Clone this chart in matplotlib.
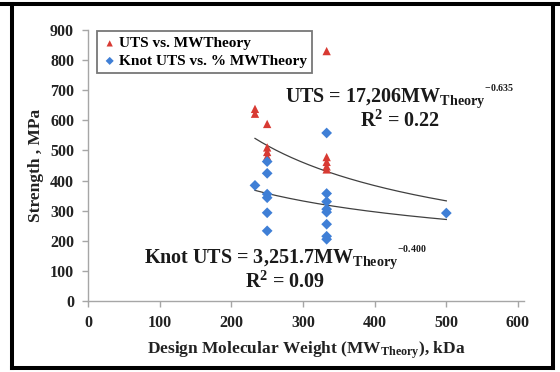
import numpy as np
import matplotlib
matplotlib.use("Agg")
import matplotlib.pyplot as plt
from matplotlib.lines import Line2D

plt.rcParams['font.family'] = ['Liberation Serif', 'DejaVu Serif']
plt.rcParams['font.weight'] = 'bold'
plt.rcParams['mathtext.fontset'] = 'custom'
plt.rcParams['mathtext.rm'] = 'Liberation Serif:bold'
plt.rcParams['mathtext.it'] = 'Liberation Serif:bold'
plt.rcParams['mathtext.bf'] = 'Liberation Serif:bold'

# ---- data ----
uts_x = [233, 233, 250, 250, 250, 250, 333, 333, 333, 333, 333]
uts_y = [638, 622, 588, 510, 495, 480, 830, 478, 462, 447, 437]

knot_x = [233, 250, 250, 250, 250, 250, 250, 333, 333, 333, 333, 333, 333, 333, 333, 500]
knot_y = [384, 463, 424, 355, 343, 293, 233, 558, 357, 330, 305, 295, 255, 215, 205, 292]

uts_coef, uts_exp, uts_r2 = 17206, -0.635, 0.22
knot_coef, knot_exp, knot_r2 = 3251.7, -0.400, 0.09

x_ticks = [0, 100, 200, 300, 400, 500, 600]
y_ticks = [0, 100, 200, 300, 400, 500, 600, 700, 800, 900]

# ---- figure ----
W, H = 560, 372
fig = plt.figure(figsize=(W / 100, H / 100), dpi=100)
x0_px, x600_px = 88, 518
xmax = 608
ppu = (x600_px - x0_px) / 600.0
ax_w = xmax * ppu
y0_px, y900_px = 301, 30
ax = fig.add_axes([x0_px / W, 1 - y0_px / H, ax_w / W, (y0_px - y900_px) / H])

red = '#d83a33'
blue = '#3f7fd6'
grey = '#a6a6a6'

# trend lines
xt = np.linspace(min(uts_x), max(knot_x), 200)
ax.plot(xt, uts_coef * xt ** uts_exp, color='#404040', lw=0.9, zorder=2)
ax.plot(xt, knot_coef * xt ** knot_exp, color='#404040', lw=0.9, zorder=2)

ax.scatter(uts_x, uts_y, marker='^', s=36, color=red, edgecolors='none', zorder=3,
           label='UTS vs. MWTheory')
ax.scatter(knot_x, knot_y, marker='D', s=30, color=blue, edgecolors='none', zorder=4,
           label='Knot UTS vs. % MWTheory')

ax.set_xlim(0, xmax)
ax.set_ylim(0, 900)
ax.set_xticks(x_ticks)
ax.set_yticks(y_ticks)
ax.set_xticklabels([str(v) for v in x_ticks], fontsize=11.5, fontweight='bold', color='#222222')
ax.set_yticklabels([str(v) for v in y_ticks], fontsize=11.5, fontweight='bold', color='#222222')
for s in ['top', 'right']:
    ax.spines[s].set_visible(False)
for s in ['left', 'bottom']:
    ax.spines[s].set_color(grey)
    ax.spines[s].set_linewidth(1.0)
ax.tick_params(axis='both', color=grey, length=4, width=1.0, direction='out', pad=6)

ax.set_xlabel(r'Design Molecular Weight (MW$_{\mathregular{Theory}}$), kDa',
              fontsize=12.5, fontweight='bold', color='#222222', labelpad=6)
ax.set_ylabel('Strength , MPa', fontsize=12.5, fontweight='bold', color='#222222', labelpad=4)

leg = ax.legend(loc='upper left', bbox_to_anchor=(0.02, 0.995), borderaxespad=0,
                fancybox=False, frameon=True,
                prop={'family': 'Liberation Serif', 'weight': 'bold', 'size': 11},
                handletextpad=0.1, handlelength=1.0, borderpad=0.35, labelspacing=0.25,
                markerscale=0.75)
leg.get_frame().set_edgecolor('#555555')
leg.get_frame().set_linewidth(1.3)

# equations
def eq(name, coef_txt, expo):
    return (name + ' = ' + coef_txt +
            r'MW$_{\mathregular{Theory}}{}^{{}^{\mathregular{' + '%.3f' % expo + '}}}$')

txt_kw = dict(ha='center', va='center', fontsize=14.5, fontweight='bold', color='#1a1a1a')
ax.text(435, 680, eq('UTS', '17,206', uts_exp), **txt_kw)
ax.text(435, 597, r'R$^{\mathregular{2}}$ = %.2f' % uts_r2, **txt_kw)
ax.text(275, 143, eq('Knot UTS', '3,251.7', knot_exp), **txt_kw)
ax.text(275, 63, r'R$^{\mathregular{2}}$ = %.2f' % knot_r2, **txt_kw)

# outer frame
lw = 2.9
fig.add_artist(Line2D([0, 1], [1 - 4 / H, 1 - 4 / H], color='black', lw=lw, transform=fig.transFigure))
fig.add_artist(Line2D([11.5 / W, 11.5 / W], [1 - 4 / H, 1 - 367.5 / H], color='black', lw=lw, transform=fig.transFigure))
fig.add_artist(Line2D([552.5 / W, 552.5 / W], [1 - 4 / H, 1 - 367.5 / H], color='black', lw=lw, transform=fig.transFigure))
fig.add_artist(Line2D([11.5 / W, 552.5 / W], [1 - 367.5 / H, 1 - 367.5 / H], color='black', lw=lw, transform=fig.transFigure))

fig.savefig('out.png', dpi=100)
